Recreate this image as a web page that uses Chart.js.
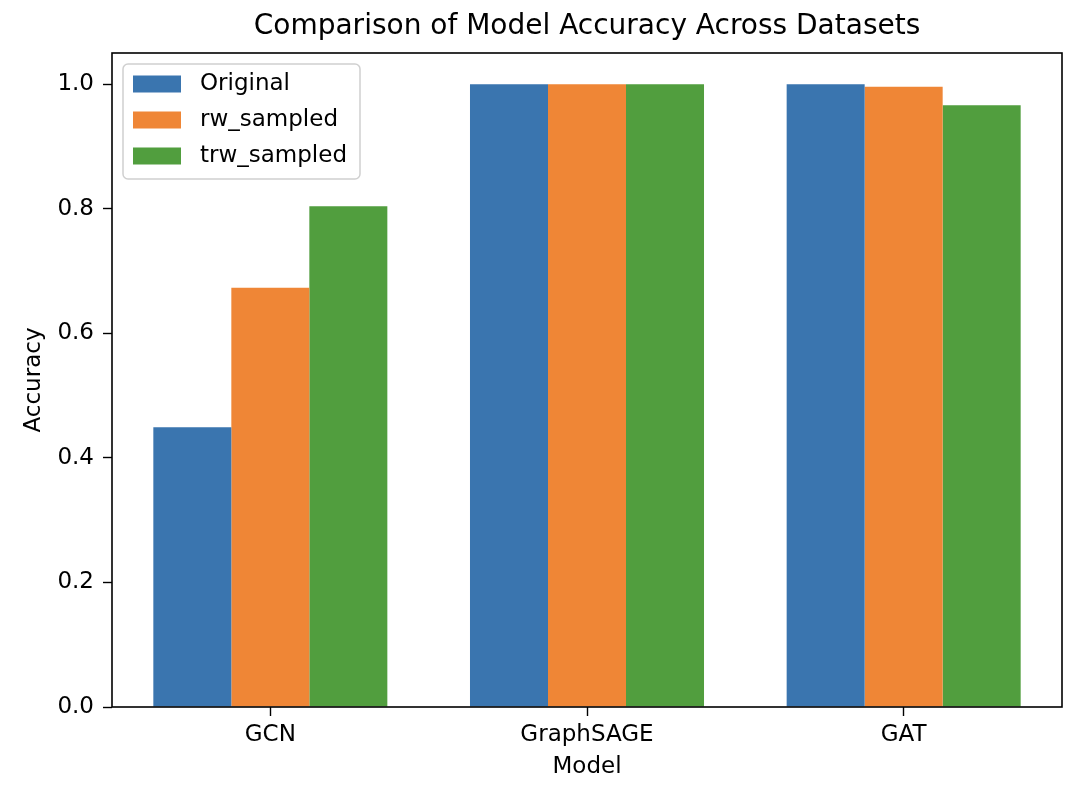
<!DOCTYPE html>
<html>
<head>
<meta charset="utf-8">
<title>Comparison of Model Accuracy Across Datasets</title>
<script src="https://cdn.jsdelivr.net/npm/chart.js@4.4.1/dist/chart.umd.min.js"></script>
<style>
  html, body { margin: 0; padding: 0; background: #fff; }
  #wrap { width: 1080px; height: 788px; }
</style>
</head>
<body>
<div id="wrap"><canvas id="accChart" width="1080" height="788"></canvas></div>
<script>
// data
const models = ['GCN', 'GraphSAGE', 'GAT'];
const seriesNames = ['Original', 'rw_sampled', 'trw_sampled'];
const original = [0.449, 1.0, 1.0];
const rwSampled = [0.673, 1.0, 0.996];
const trwSampled = [0.804, 1.0, 0.966];
const yTicks = [0.0, 0.2, 0.4, 0.6, 0.8, 1.0];
const colors = ['#3a75af', '#ef8636', '#519e3e'];
const chartTitle = 'Comparison of Model Accuracy Across Datasets';

const FONT = "'DejaVu Sans', 'Liberation Sans', sans-serif";
Chart.defaults.font.family = FONT;
Chart.defaults.color = '#000';

// frame around the plot area (matplotlib style box) + title centred over the axes
const framePlugin = {
  id: 'frame',
  afterDatasetsDraw(chart) {
    const { ctx, chartArea: a } = chart;
    ctx.save();
    ctx.strokeStyle = '#000';
    ctx.lineWidth = 1.6;
    ctx.strokeRect(a.left, a.top, a.right - a.left, a.bottom - a.top);
    ctx.font = '28px ' + FONT;
    ctx.fillStyle = '#000';
    ctx.textAlign = 'center';
    ctx.textBaseline = 'middle';
    ctx.fillText(chartTitle, (a.left + a.right) / 2, a.top - 26);
    ctx.restore();
  }
};

// legend box in the upper left corner of the plot
const boxLegend = {
  id: 'boxLegend',
  afterDraw(chart) {
    const { ctx, chartArea: a } = chart;
    const x0 = a.left + 11, y0 = a.top + 11;
    const w = 237, h = 115, rowH = 36;
    ctx.save();
    ctx.beginPath();
    ctx.roundRect(x0, y0, w, h, 5);
    ctx.fillStyle = 'rgba(255,255,255,0.8)';
    ctx.fill();
    ctx.strokeStyle = '#d0d0d0';
    ctx.lineWidth = 1.5;
    ctx.stroke();
    ctx.font = '23px ' + FONT;
    ctx.textBaseline = 'middle';
    ctx.textAlign = 'left';
    chart.data.datasets.forEach((ds, i) => {
      const cy = y0 + 20 + i * rowH;
      ctx.fillStyle = ds.backgroundColor;
      ctx.fillRect(x0 + 10, cy - 8.5, 48, 17);
      ctx.fillStyle = '#000';
      ctx.fillText(ds.label, x0 + 77, cy);
    });
    ctx.restore();
  }
};

const ctx = document.getElementById('accChart').getContext('2d');
new Chart(ctx, {
  type: 'bar',
  data: {
    labels: models,
    datasets: [original, rwSampled, trwSampled].map((vals, i) => ({
      label: seriesNames[i],
      data: vals,
      backgroundColor: colors[i],
      borderWidth: 0,
      categoryPercentage: 0.739,
      barPercentage: 1.0
    }))
  },
  options: {
    responsive: false,
    animation: false,
    devicePixelRatio: 1,
    layout: { padding: { left: 0, right: 18, top: 53, bottom: 0 } },
    plugins: {
      legend: { display: false },
      tooltip: { enabled: false },
      title: { display: false }
    },
    scales: {
      x: {
        grid: { display: true, offset: false, drawOnChartArea: false, drawTicks: true, tickLength: 9, tickColor: '#000', tickWidth: 1.4 },
        border: { display: false },
        ticks: { color: '#000', font: { size: 23 }, padding: 5, maxRotation: 0 },
        title: { display: true, text: 'Model', color: '#000', font: { size: 23 }, padding: { top: 0, bottom: 7 } },
        afterFit(scale) { scale.height = 81; }
      },
      y: {
        min: 0,
        max: 1.05,
        grid: { display: true, drawOnChartArea: false, drawTicks: true, tickLength: 9, tickColor: '#000', tickWidth: 1.4 },
        border: { display: false },
        afterBuildTicks(scale) { scale.ticks = yTicks.map(v => ({ value: v })); },
        ticks: {
          color: '#000',
          font: { size: 23 },
          padding: 9,
          callback: v => Number(v).toFixed(1)
        },
        title: { display: true, text: 'Accuracy', color: '#000', font: { size: 23 }, padding: { top: 20, bottom: 0 } },
        afterFit(scale) { scale.width = 112; }
      }
    }
  },
  plugins: [framePlugin, boxLegend]
});
</script>
</body>
</html>
